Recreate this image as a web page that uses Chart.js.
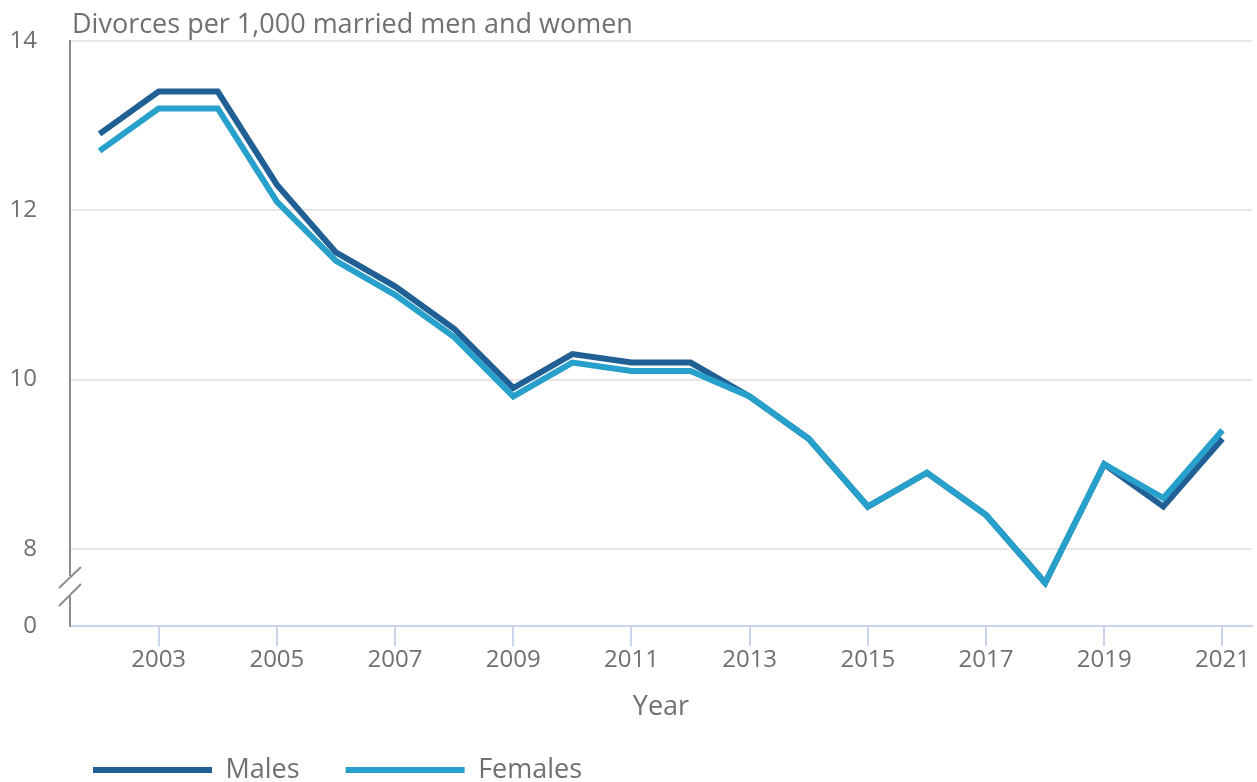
<!DOCTYPE html>
<html>
<head>
<meta charset="utf-8">
<script src="https://cdn.jsdelivr.net/npm/chart.js@4"></script>
<style>
  html, body { margin: 0; padding: 0; background: #fff; overflow: hidden; }
  #wrap { width: 1257px; height: 802px; position: relative; }
</style>
</head>
<body>
<div id="wrap"><canvas id="chart"></canvas></div>
<script>
const years = ['2002','2003','2004','2005','2006','2007','2008','2009','2010','2011',
               '2012','2013','2014','2015','2016','2017','2018','2019','2020','2021'];
const males   = [12.9, 13.4, 13.4, 12.3, 11.5, 11.1, 10.6, 9.9, 10.3, 10.2,
                 10.2, 9.8, 9.3, 8.5, 8.9, 8.4, 7.6, 9.0, 8.5, 9.3];
const females = [12.7, 13.2, 13.2, 12.1, 11.4, 11.0, 10.5, 9.8, 10.2, 10.1,
                 10.1, 9.8, 9.3, 8.5, 8.9, 8.4, 7.6, 9.0, 8.6, 9.4];
const yTicks = [8, 10, 12, 14];
const yBreakValue = 7.09;   // bottom of the broken axis, labelled "0"
const yBreakLabel = '0';
const yTitle = 'Divorces per 1,000 married men and women';
const xTitle = 'Year';

const TEXT = '#707070';
const FONT = "'Open Sans', sans-serif";

// title above the plot + the axis break marks
const extras = {
    id: 'extras',
    afterDraw(chart) {
        const { ctx, chartArea } = chart;
        ctx.save();
        ctx.font = '27px ' + FONT;
        ctx.fillStyle = TEXT;
        ctx.textBaseline = 'alphabetic';
        ctx.fillText(yTitle, chartArea.left + 2, 33);

        const x = chartArea.left;
        const b = chartArea.bottom;
        ctx.fillStyle = '#fff';
        ctx.fillRect(x - 2, b - 50, 4, 20);
        ctx.strokeStyle = '#8f8f8f';
        ctx.lineWidth = 2;
        ctx.beginPath();
        ctx.moveTo(x - 11, b - 38); ctx.lineTo(x + 11, b - 59);
        ctx.moveTo(x - 11, b - 20); ctx.lineTo(x + 11, b - 42);
        ctx.stroke();
        ctx.restore();
    },
    afterLayout(chart) {
        // push legend items to start under the plot
        chart.legend.left += 47;
    }
};

new Chart(document.getElementById('chart'), {
    type: 'line',
    data: {
        labels: years,
        datasets: [
            { label: 'Males', data: males, borderColor: '#206095', backgroundColor: '#206095',
              borderWidth: 6, pointRadius: 0, tension: 0, order: 1 },
            { label: 'Females', data: females, borderColor: '#27a0cc', backgroundColor: '#27a0cc',
              borderWidth: 6, pointRadius: 0, tension: 0, order: 0 }
        ]
    },
    options: {
        responsive: true,
        maintainAspectRatio: false,
        animation: false,
        layout: { padding: { left: 0, right: 5, top: 40.7, bottom: 8.5 } },
        plugins: {
            tooltip: { enabled: false },
            legend: {
                position: 'bottom',
                align: 'start',
                labels: {
                    boxWidth: 119,
                    boxHeight: 6,
                    padding: 46,
                    color: TEXT,
                    font: { family: FONT, size: 27 },
                    sort: (a, b) => a.datasetIndex - b.datasetIndex,
                    generateLabels: (chart) =>
                        Chart.defaults.plugins.legend.labels.generateLabels(chart)
                            .map(l => ({ ...l, lineWidth: 0 }))
                }
            }
        },
        scales: {
            x: {
                offset: true,
                grid: {
                    drawOnChartArea: false,
                    drawTicks: true,
                    tickLength: 20,
                    lineWidth: 2,
                    color: (c) => c.index % 2 === 1 ? '#c9d4ec' : 'rgba(0,0,0,0)'
                },
                border: { color: '#c9d4ec', width: 2 },
                ticks: {
                    autoSkip: false,
                    maxRotation: 0,
                    padding: 0,
                    color: TEXT,
                    font: { family: FONT, size: 24 },
                    callback: (v, i) => i % 2 === 1 ? years[i] : ''
                },
                title: {
                    display: true,
                    text: xTitle,
                    color: TEXT,
                    font: { family: FONT, size: 27 },
                    padding: { top: 0, bottom: -13.5 }
                },
                afterFit: (s) => { s.height = 84.5; }
            },
            y: {
                min: yBreakValue,
                max: 14,
                afterBuildTicks: (s) => {
                    s.ticks = [yBreakValue, ...yTicks].map(v => ({ value: v }));
                },
                grid: {
                    drawTicks: false,
                    lineWidth: 2,
                    color: (c) => c.index === 0 ? 'rgba(0,0,0,0)' : '#e6e6e6'
                },
                border: { color: '#8f8f8f', width: 2 },
                ticks: {
                    padding: 33,
                    color: TEXT,
                    font: { family: FONT, size: 24 },
                    callback: (v) => v < 8 ? yBreakLabel : v
                },
                afterFit: (s) => {
                    s.width = 70;
                    s.paddingTop = 0;
                    s.paddingBottom = 0;
                }
            }
        }
    },
    plugins: [extras]
});
</script>
</body>
</html>
